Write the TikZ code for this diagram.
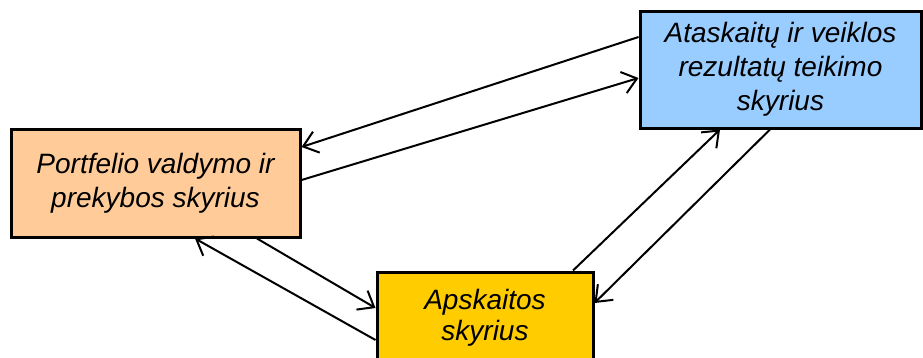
\documentclass[tikz,border=0pt]{standalone}
\usepackage{fontspec}
\setmainfont{Liberation Sans}
\usetikzlibrary{arrows.meta}
\definecolor{peach}{HTML}{FFCC99}
\definecolor{skyb}{HTML}{99CCFF}
\definecolor{gold}{HTML}{FFCC00}
\begin{document}
\begin{tikzpicture}[x=1pt,y=-1pt,
  box/.style={draw=black, line width=3pt, align=center, inner sep=0pt, anchor=center,
    font=\fontsize{28}{34}\selectfont\itshape},
  link/.style={line width=2pt, -{Straight Barb[length=14pt,width=22pt,line width=2pt]}}]
\useasboundingbox (0,0) rectangle (923,357);
\clip (0,0) rectangle (923,357);
\node[box, fill=peach, minimum width=289pt, minimum height=108pt] (pv) at (155.5,183)
  {Portfelio valdymo ir\\prekybos skyrius};
\node[box, fill=skyb, minimum width=281pt, minimum height=117pt] (ar) at (780.5,69.5)
  {Ataskaitų ir veiklos\\rezultatų teikimo\\skyrius};
\node[box, fill=gold, minimum width=216pt, minimum height=92pt, font=\fontsize{28}{31}\selectfont\itshape] (ap) at (485,318)
  {Apskaitos\\skyrius};
% connectors
\draw[link] ([yshift=32.5pt]ar.west) -- ([yshift=36pt]pv.east);
\draw[link] ([yshift=3pt]pv.east) -- ([yshift=-8.5pt]ar.west);
\draw[link] ([xshift=101.5pt]pv.south) -- ([yshift=10pt]ap.west);
\draw[link] ([yshift=-22pt]ap.west) -- ([xshift=39.5pt]pv.south);
\draw[link] ([xshift=88pt]ap.north) -- ([xshift=-60.5pt]ar.south);
\draw[link] ([xshift=-10.5pt]ar.south) -- ([yshift=15pt]ap.east);
\end{tikzpicture}
\end{document}
